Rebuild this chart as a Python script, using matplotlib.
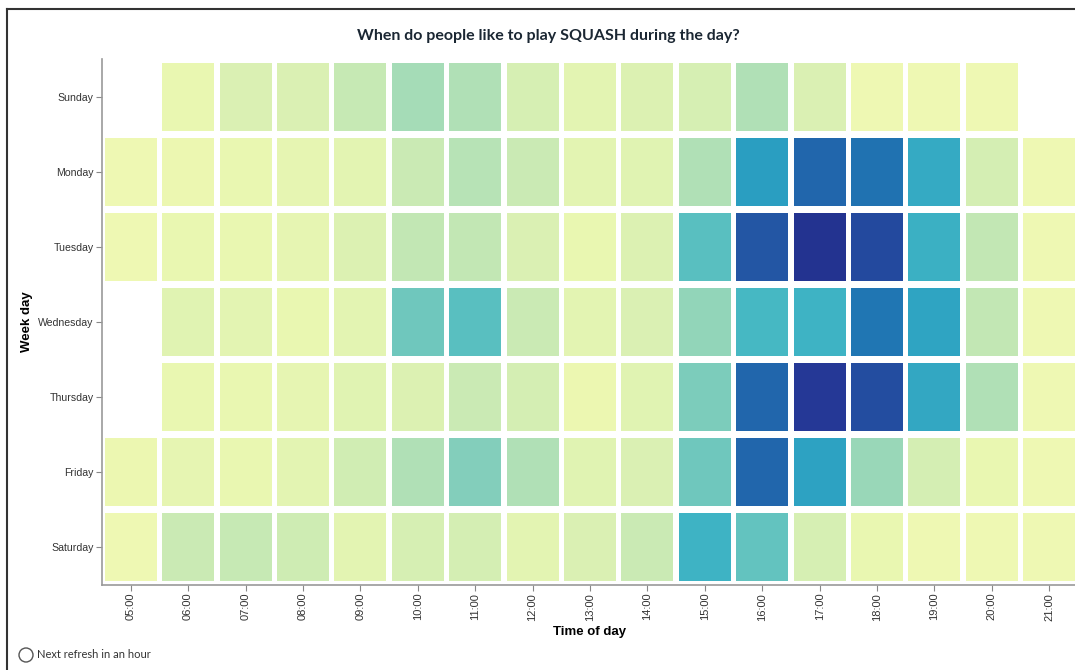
import numpy as np
import matplotlib
matplotlib.use("Agg")
import matplotlib.pyplot as plt
from matplotlib.lines import Line2D
from matplotlib.patches import Ellipse

days = ["Sunday", "Monday", "Tuesday", "Wednesday", "Thursday", "Friday", "Saturday"]
hours = ["05:00", "06:00", "07:00", "08:00", "09:00", "10:00", "11:00", "12:00",
         "13:00", "14:00", "15:00", "16:00", "17:00", "18:00", "19:00", "20:00", "21:00"]

nan = np.nan
# popularity index per hour (0-100)
sunday    = [nan, 14, 19, 19, 25, 31, 29, 20, 16, 18, 20, 29, 19, 12, 12, 12, nan]
monday    = [12, 13, 14, 15, 16, 24, 28, 24, 16, 17, 29, 58, 73, 70, 54, 21, 12]
tuesday   = [12, 14, 14, 15, 18, 26, 26, 19, 14, 18, 45, 77, 88, 81, 52, 26, 12]
wednesday = [nan, 17, 16, 14, 16, 41, 45, 24, 16, 19, 34, 49, 51, 69, 56, 26, 12]
thursday  = [nan, 14, 14, 15, 17, 18, 24, 21, 13, 17, 38, 73, 86, 80, 55, 29, 12]
friday    = [13, 15, 14, 16, 22, 29, 37, 29, 17, 19, 41, 73, 57, 33, 21, 14, 12]
saturday  = [12, 24, 25, 23, 16, 20, 21, 16, 19, 24, 51, 43, 20, 14, 12, 12, 12]

rows = [sunday, monday, tuesday, wednesday, thursday, friday, saturday]

cmap = plt.get_cmap("YlGnBu")
norm = plt.Normalize(0, 100)

W, H = 1075, 670
fig = plt.figure(figsize=(W / 100, H / 100), dpi=100)
ax = fig.add_axes([102 / W, 85.5 / H, 976 / W, 525 / H])

x = np.arange(len(hours))
for i, vals in enumerate(rows):
    vals = np.array(vals, dtype=float)
    ok = ~np.isnan(vals)
    ax.bar(x[ok], 0.9, bottom=i - 0.45, width=0.905,
           color=cmap(norm(vals[ok])), linewidth=0)

ax.set_xlim(-0.5, len(hours) - 0.5)
ax.set_ylim(len(days) - 0.5, -0.5)
ax.set_xticks(x)
ax.set_xticklabels(hours, rotation=90, fontsize=8, color="#333333", family="Liberation Sans")
ax.set_yticks(range(len(days)))
ax.set_yticklabels(days, fontsize=7.6, color="#333333", family="Liberation Sans")
ax.tick_params(length=4, width=0.8, color="#888888", pad=2)

for s in ["top", "right"]:
    ax.spines[s].set_visible(False)
for s in ["left", "bottom"]:
    ax.spines[s].set_color("#999999")
    ax.spines[s].set_linewidth(1.2)

# axis titles
fig.text(590 / W, 1 - 632 / H, "Time of day", ha="center", va="center",
         fontsize=9.5, fontweight="bold", family="Liberation Sans")
fig.text(27 / W, 1 - 322 / H, "Week day", ha="center", va="center", rotation=90,
         fontsize=9.5, fontweight="bold", family="Liberation Sans")

fig.text(548 / W, 1 - 36 / H, "When do people like to play SQUASH during the day?",
         ha="center", va="center", fontsize=11.5, fontweight="bold", color="#1b2733", family="Lato")

# footer
fig.add_artist(Ellipse((26 / W, 1 - 655 / H), 14 / W, 14 / H, transform=fig.transFigure,
                       fill=False, edgecolor="#555555", linewidth=1))
fig.text(37 / W, 1 - 655 / H, "Next refresh in an hour", ha="left", va="center",
         fontsize=8, color="#333333", family="Lato")

# frame of the screenshot
fig.add_artist(Line2D([7 / W, 1], [1 - 9 / H, 1 - 9 / H], color="#333333", linewidth=1.5,
                      transform=fig.transFigure))
fig.add_artist(Line2D([7 / W, 7 / W], [0, 1 - 9 / H], color="#333333", linewidth=1.5,
                      transform=fig.transFigure))

fig.savefig("out.png", dpi=100)
